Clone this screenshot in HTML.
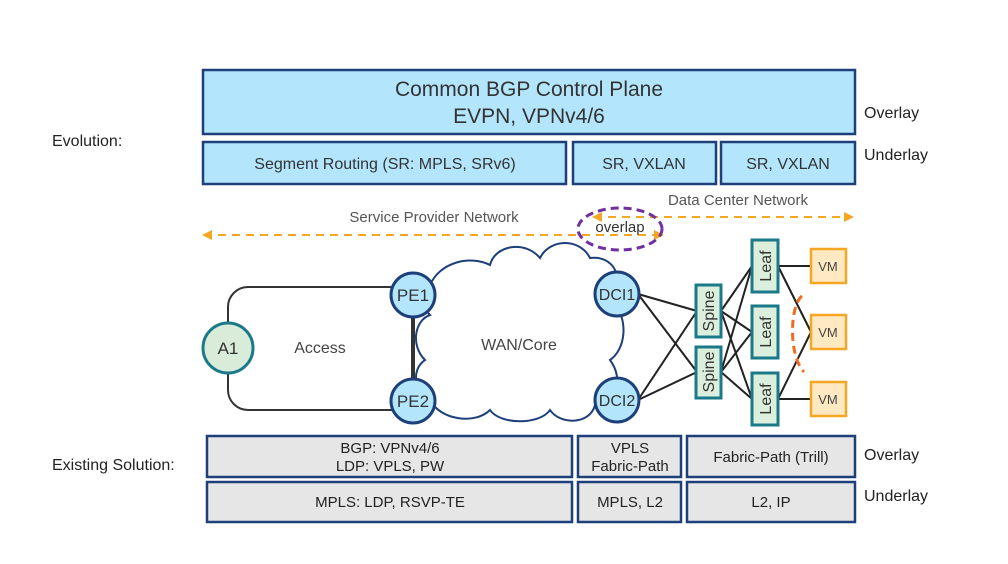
<!DOCTYPE html>
<html><head><meta charset="utf-8"><style>
body{margin:0;background:#fff}
svg{display:block;font-family:"Liberation Sans",sans-serif}
</style></head><body>
<svg width="1008" height="564" viewBox="0 0 1008 564" xmlns="http://www.w3.org/2000/svg">
<rect width="1008" height="564" fill="#fff"/>
<defs>
<marker id="ar" viewBox="0 0 10 10" refX="8" refY="5" markerWidth="5" markerHeight="5" orient="auto-start-reverse"><path d="M0,0L10,5L0,10z" fill="#f5a623"/></marker>
</defs>
<g stroke="#1d3f7a" stroke-width="2.5" fill="#b3e5fc">
<rect x="203" y="70" width="652" height="64"/>
<rect x="203" y="142" width="363" height="42"/>
<rect x="573" y="142" width="143" height="42"/>
<rect x="721" y="142" width="134" height="42"/>
</g>
<g fill="#333" text-anchor="middle">
<text x="529" y="96" font-size="21">Common BGP Control Plane</text>
<text x="529" y="123" font-size="21">EVPN, VPNv4/6</text>
<text x="385" y="169" font-size="16">Segment Routing (SR: MPLS, SRv6)</text>
<text x="644" y="169" font-size="16">SR, VXLAN</text>
<text x="788" y="169" font-size="16">SR, VXLAN</text>
</g>
<g fill="#222" font-size="16">
<text x="864" y="118">Overlay</text>
<text x="864" y="160">Underlay</text>
<text x="52" y="146">Evolution:</text>
<text x="52" y="470">Existing Solution:</text>
<text x="864" y="460">Overlay</text>
<text x="864" y="501">Underlay</text>
</g>
<g fill="#555" font-size="15" text-anchor="middle">
<text x="434" y="222">Service Provider Network</text>
<text x="738" y="205">Data Center Network</text>
</g>
<g stroke="#f5a623" stroke-width="2" stroke-dasharray="8,6" fill="none">
<line x1="204" y1="235" x2="662" y2="235" marker-start="url(#ar)" marker-end="url(#ar)"/>
<line x1="594" y1="217" x2="852" y2="217" marker-start="url(#ar)" marker-end="url(#ar)"/>
</g>
<ellipse cx="620" cy="229" rx="42" ry="21" fill="none" stroke="#7030a0" stroke-width="3" stroke-dasharray="8,5"/>
<text x="620" y="232" font-size="15" fill="#333" text-anchor="middle">overlap</text>
<rect x="228" y="287" width="184" height="123" rx="20" fill="none" stroke="#333" stroke-width="2"/>
<line x1="414" y1="295" x2="414" y2="401" stroke="#333" stroke-width="2"/>
<path d="M430,285 C440,262 470,255 490,265 C495,245 525,240 540,258 C550,238 580,238 590,258 C615,255 625,280 612,300 C630,320 625,350 610,360 C625,380 615,405 595,405 C590,425 560,425 550,410 C540,425 500,425 490,410 C475,425 440,420 430,400 C415,395 410,370 425,360 C410,345 415,320 430,315 C420,305 422,292 430,285 Z" fill="#fff" stroke="#1d3f7a" stroke-width="2"/>
<text x="519" y="350" font-size="16" fill="#444" text-anchor="middle">WAN/Core</text>
<text x="320" y="353" font-size="16" fill="#444" text-anchor="middle">Access</text>
<g stroke="#222" stroke-width="2">
<line x1="638" y1="294" x2="697" y2="311"/><line x1="638" y1="294" x2="697" y2="372"/>
<line x1="638" y1="400" x2="697" y2="311"/><line x1="638" y1="400" x2="697" y2="372"/>
<line x1="721" y1="311" x2="752" y2="266"/><line x1="721" y1="311" x2="752" y2="332"/><line x1="721" y1="311" x2="752" y2="399"/>
<line x1="721" y1="372" x2="752" y2="266"/><line x1="721" y1="372" x2="752" y2="332"/><line x1="721" y1="372" x2="752" y2="399"/>
<line x1="778" y1="266" x2="811" y2="266"/><line x1="778" y1="399" x2="811" y2="399"/>
<line x1="778" y1="266" x2="811" y2="332"/><line x1="778" y1="399" x2="811" y2="332"/>
</g>
<path d="M802,296 C790,305 788,355 804,372" fill="none" stroke="#f26b21" stroke-width="3" stroke-dasharray="8,5"/>
<g stroke="#1d3f7a" stroke-width="3" fill="#b3e5fc">
<circle cx="413" cy="295" r="22"/><circle cx="413" cy="401" r="22"/>
<circle cx="617" cy="294" r="22"/><circle cx="617" cy="400" r="22"/>
</g>
<circle cx="228" cy="348" r="25" fill="#d9ecd9" stroke="#1a7a8a" stroke-width="3"/>
<g font-size="17" fill="#333" text-anchor="middle">
<text x="413" y="301">PE1</text><text x="413" y="407">PE2</text>
<text x="617" y="300" font-size="16">DCI1</text><text x="617" y="406" font-size="16">DCI2</text>
<text x="228" y="354">A1</text>
</g>
<g fill="#dcefdc" stroke="#1a7a8a" stroke-width="3">
<rect x="696" y="285" width="25" height="52"/><rect x="696" y="347" width="25" height="51"/>
<rect x="752" y="240" width="26" height="52"/><rect x="752" y="306" width="26" height="52"/><rect x="752" y="373" width="26" height="52"/>
</g>
<g font-size="16" fill="#333" text-anchor="middle">
<text transform="translate(714,311) rotate(-90)">Spine</text>
<text transform="translate(714,372) rotate(-90)">Spine</text>
<text transform="translate(771,266) rotate(-90)">Leaf</text>
<text transform="translate(771,332) rotate(-90)">Leaf</text>
<text transform="translate(771,399) rotate(-90)">Leaf</text>
</g>
<g fill="#ffe9c2" stroke="#f5a623" stroke-width="2.5">
<rect x="811" y="249" width="35" height="34"/><rect x="811" y="315" width="35" height="34"/><rect x="811" y="382" width="35" height="34"/>
</g>
<g font-size="13" fill="#444" text-anchor="middle">
<text x="828" y="271">VM</text><text x="828" y="337">VM</text><text x="828" y="404">VM</text>
</g>
<g stroke="#1d3f7a" stroke-width="2.5" fill="#e6e6e6">
<rect x="207" y="436" width="365" height="41"/><rect x="578" y="436" width="103" height="41"/><rect x="687" y="436" width="168" height="41"/>
<rect x="207" y="482" width="365" height="40"/><rect x="578" y="482" width="103" height="40"/><rect x="687" y="482" width="168" height="40"/>
</g>
<g font-size="15" fill="#222" text-anchor="middle">
<text x="390" y="453">BGP: VPNv4/6</text><text x="390" y="471">LDP: VPLS, PW</text>
<text x="630" y="453">VPLS</text><text x="630" y="471">Fabric-Path</text>
<text x="771" y="462">Fabric-Path (Trill)</text>
<text x="390" y="507">MPLS: LDP, RSVP-TE</text>
<text x="630" y="507">MPLS, L2</text>
<text x="771" y="507">L2, IP</text>
</g>
</svg>
</body></html>
